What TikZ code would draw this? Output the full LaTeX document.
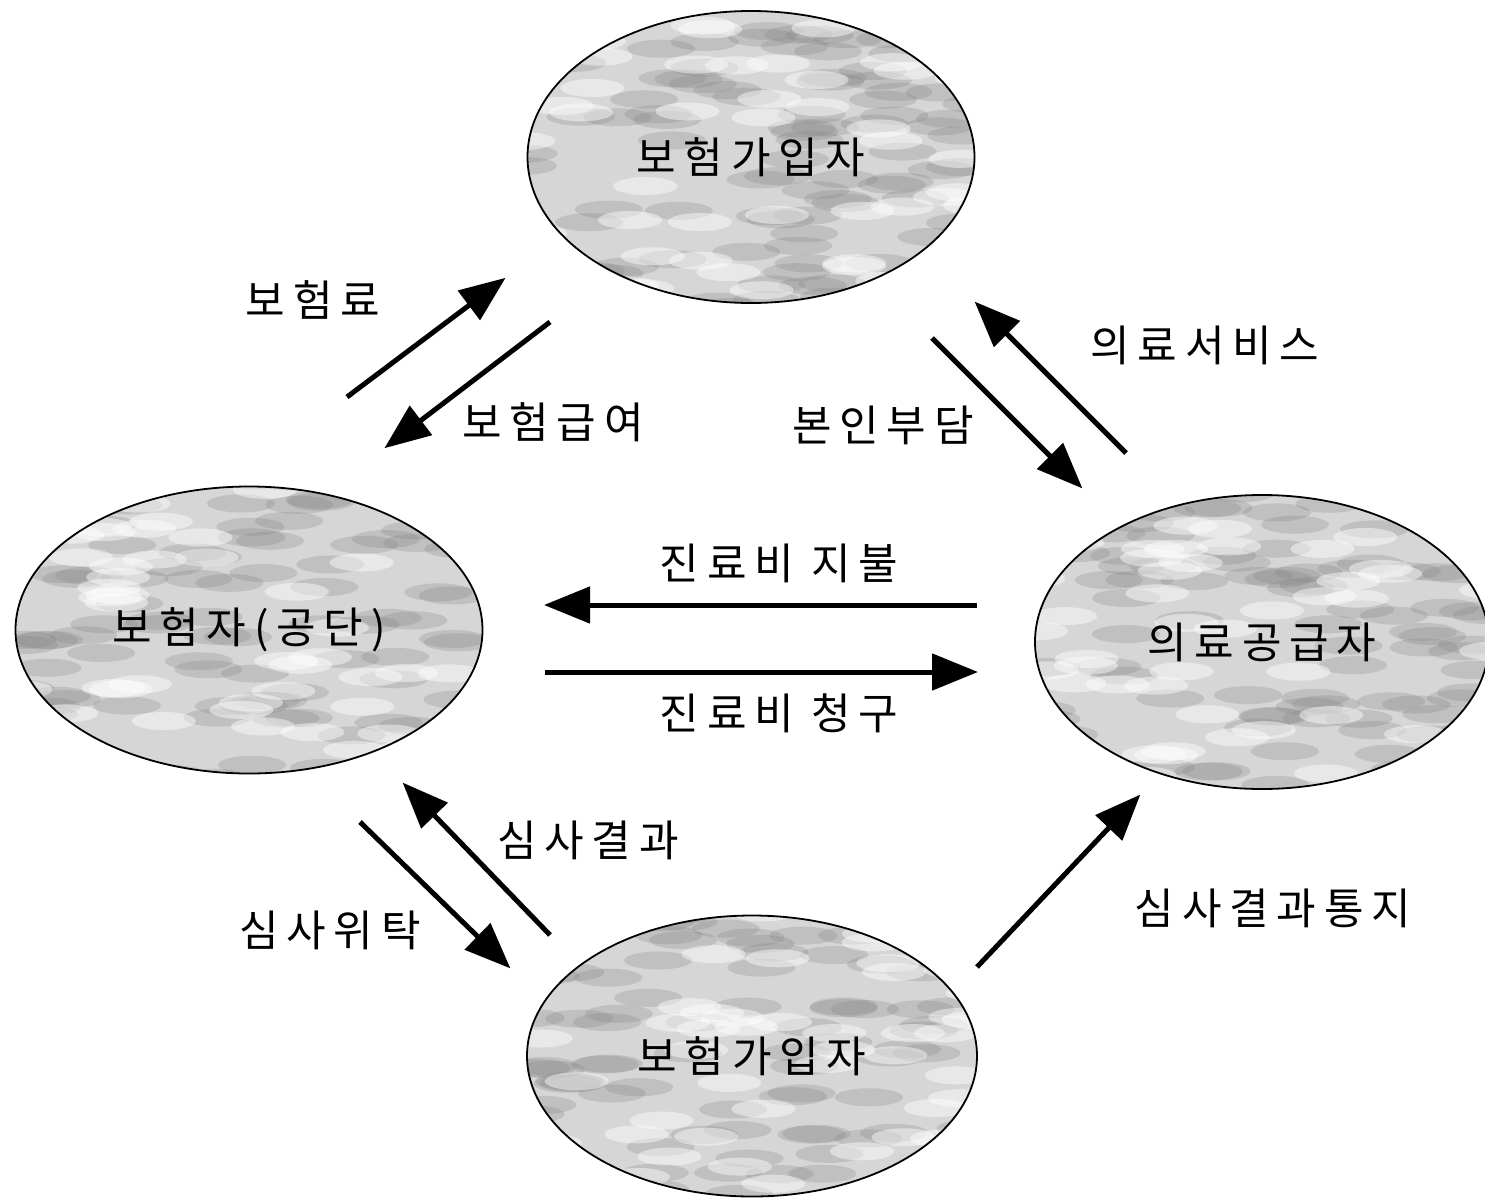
\documentclass[tikz,border=0pt]{standalone}
\usepackage{fontspec}
\setmainfont{Noto Sans CJK KR}[LetterSpace=18]
\usetikzlibrary{arrows.meta,shapes.geometric,calc}
\begin{document}
\begin{tikzpicture}[x=1pt,y=-1pt,
  blob/.style={draw=black, line width=1.8pt, ellipse, inner sep=0pt,
    fill=black!16, font=\fontsize{43}{48}\selectfont,
    path picture={
      \pgfmathsetseed{\seedval}
      \foreach \i in {1,...,90}{
        \pgfmathsetmacro{\rx}{rand*230}\pgfmathsetmacro{\ry}{rand*150}
        \fill[black!50, opacity=0.25] ($(path picture bounding box.center)+(\rx pt,\ry pt)$) ellipse (34pt and 9pt);
      }
      \foreach \i in {1,...,50}{
        \pgfmathsetmacro{\rx}{rand*230}\pgfmathsetmacro{\ry}{rand*150}
        \fill[white, opacity=0.45] ($(path picture bounding box.center)+(\rx pt,\ry pt)$) ellipse (32pt and 9pt);
      }
    }},
  lbl/.style={font=\fontsize{43}{48}\selectfont, inner sep=0pt},
  arr/.style={line width=5pt, -{Triangle[length=46pt,width=36pt]}, shorten >=-2pt}
]
\useasboundingbox (0,0) rectangle (1485,1199);
\def\seedval{11}
\node[blob, minimum width=447pt, minimum height=292pt] (top) at (751,157) {보험가입자};
\def\seedval{23}
\node[blob, minimum width=467pt, minimum height=287pt] (left) at (249,630) {보험자(공단)};
\def\seedval{37}
\node[blob, minimum width=454pt, minimum height=294pt] (right) at (1262,642) {의료공급자};
\def\seedval{51}
\node[blob, minimum width=450pt, minimum height=281pt] (bottom) at (752,1056) {보험가입자};

% arrow end points
\coordinate (a1s) at (347,397);  \coordinate (a1e) at (504,279);
\coordinate (a2s) at (550,322);  \coordinate (a2e) at (386,447);
\coordinate (a3s) at (932,338);  \coordinate (a3e) at (1081,487);
\coordinate (a4s) at (1126,453); \coordinate (a4e) at (976,303);
\coordinate (a5s) at (977,605);  \coordinate (a5e) at (546,605);
\coordinate (a6s) at (545,672);  \coordinate (a6e) at (976,672);
\coordinate (a7s) at (550,935);  \coordinate (a7e) at (404,784);
\coordinate (a8s) at (360,822);  \coordinate (a8e) at (509,967);
\coordinate (a9s) at (977,967);  \coordinate (a9e) at (1139,796);

\draw[arr] (a1s) -- (a1e);
\draw[arr] (a2s) -- (a2e);
\draw[arr] (a3s) -- (a3e);
\draw[arr] (a4s) -- (a4e);
\draw[arr] (a5s) -- (a5e);
\draw[arr] (a6s) -- (a6e);
\draw[arr] (a7s) -- (a7e);
\draw[arr] (a8s) -- (a8e);
\draw[arr] (a9s) -- (a9e);

\node[lbl] (l1) at (313,300) {보험료};
\node[lbl] (l2) at (553,422) {보험급여};
\node[lbl] (l3) at (883,425) {본인부담};
\node[lbl] (l4) at (1205,345) {의료서비스};
\node[lbl] (l5) at (779,563) {진료비 지불};
\node[lbl] (l6) at (779,713) {진료비 청구};
\node[lbl] (l7) at (588,840) {심사결과};
\node[lbl] (l8) at (330,930) {심사위탁};
\node[lbl] (l9) at (1273,908) {심사결과통지};
\end{tikzpicture}
\end{document}
